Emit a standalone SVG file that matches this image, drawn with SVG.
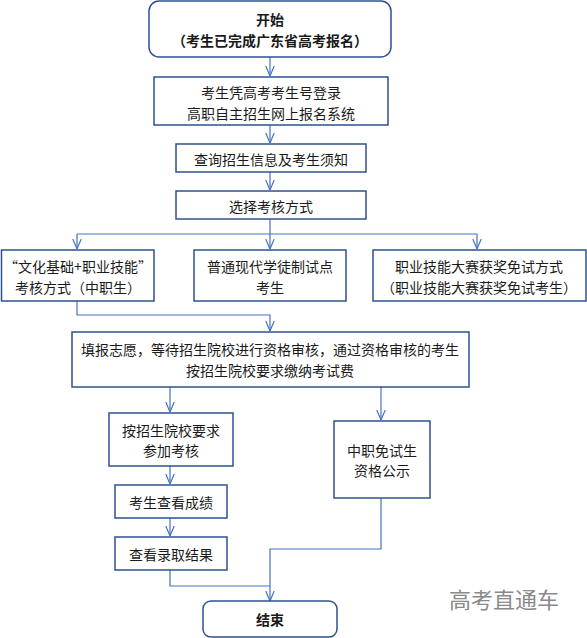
<svg xmlns="http://www.w3.org/2000/svg" width="587" height="638" viewBox="0 0 587 638">
<style>
.box{fill:#fff;stroke:#2F528F;stroke-width:1.5}
.t{font-family:"Noto Sans CJK SC","Liberation Sans",sans-serif;font-size:14px;fill:#1a1a1a;text-anchor:middle;dominant-baseline:central}
.b{font-weight:bold;font-size:14px}
.c{fill:none;stroke:#4472C4;stroke-width:1.2}
.wm{font-family:"Noto Sans CJK SC","Liberation Sans",sans-serif;font-size:22px;fill:#8a8a8a;dominant-baseline:central}
</style>
<defs>
<marker id="ah" markerUnits="userSpaceOnUse" markerWidth="10" markerHeight="10" viewBox="0 0 10 10" refX="10" refY="5" orient="auto">
<path d="M0,0.8 L10,5 L0,9.2" fill="none" stroke="#4472C4" stroke-width="1.2"/>
</marker>
</defs>
<rect width="587" height="638" fill="#fff"/>
<g id="connectors">
<path class="c" d="M270,57 V76" marker-end="url(#ah)"/>
<path class="c" d="M270,125 V143" marker-end="url(#ah)"/>
<path class="c" d="M270,172 V190" marker-end="url(#ah)"/>
<path class="c" d="M270,219 V234 M77,234 H477"/>
<path class="c" d="M77,234 V249" marker-end="url(#ah)"/>
<path class="c" d="M270,234 V249" marker-end="url(#ah)"/>
<path class="c" d="M477,234 V249" marker-end="url(#ah)"/>
<path class="c" d="M77,301 V315 H270 V331" marker-end="url(#ah)"/>
<path class="c" d="M170,387 V412" marker-end="url(#ah)"/>
<path class="c" d="M381,387 V420" marker-end="url(#ah)"/>
<path class="c" d="M170,466 V484" marker-end="url(#ah)"/>
<path class="c" d="M170,518 V536" marker-end="url(#ah)"/>
<path class="c" d="M170,570 V586 H270"/>
<path class="c" d="M381,498 V549 H270 V601" marker-end="url(#ah)"/>
</g>
<g id="start">
<rect class="box" x="149" y="1" width="242" height="56" rx="10"/>
<text class="t b" x="270" y="19">开始</text>
<text class="t b" x="270" y="40">（考生已完成广东省高考报名）</text>
</g>
<g id="login">
<rect class="box" x="154" y="77" width="234" height="48"/>
<text class="t" x="271" y="92">考生凭高考考生号登录</text>
<text class="t" x="271" y="113">高职自主招生网上报名系统</text>
</g>
<g id="query">
<rect class="box" x="176" y="144" width="190" height="28"/>
<text class="t" x="271" y="159">查询招生信息及考生须知</text>
</g>
<g id="choose">
<rect class="box" x="176" y="191" width="190" height="28"/>
<text class="t" x="271" y="206">选择考核方式</text>
</g>
<g id="mode1">
<rect class="box" x="1.5" y="250" width="152.5" height="51"/>
<text class="t" x="78" y="266">“文化基础+职业技能”</text>
<text class="t" x="78" y="287">考核方式（中职生）</text>
</g>
<g id="mode2">
<rect class="box" x="194" y="250" width="152" height="51"/>
<text class="t" x="270" y="266">普通现代学徒制试点</text>
<text class="t" x="270" y="287">考生</text>
</g>
<g id="mode3">
<rect class="box" x="373" y="250" width="213" height="51"/>
<text class="t" x="479" y="266">职业技能大赛获奖免试方式</text>
<text class="t" x="479" y="287">（职业技能大赛获奖免试考生）</text>
</g>
<g id="apply">
<rect class="box" x="72" y="332" width="397" height="55"/>
<text class="t" x="270" y="349">填报志愿，等待招生院校进行资格审核，通过资格审核的考生</text>
<text class="t" x="270" y="370">按招生院校要求缴纳考试费</text>
</g>
<g id="exam">
<rect class="box" x="109" y="413" width="124" height="53"/>
<text class="t" x="171" y="430">按招生院校要求</text>
<text class="t" x="171" y="450">参加考核</text>
</g>
<g id="publicity">
<rect class="box" x="334" y="421" width="96" height="77"/>
<text class="t" x="382" y="450">中职免试生</text>
<text class="t" x="382" y="470">资格公示</text>
</g>
<g id="score">
<rect class="box" x="115" y="485" width="112" height="33"/>
<text class="t" x="171" y="502">考生查看成绩</text>
</g>
<g id="result">
<rect class="box" x="115" y="537" width="112" height="33"/>
<text class="t" x="171" y="554">查看录取结果</text>
</g>
<g id="end">
<rect class="box" x="203" y="601" width="134" height="36" rx="8"/>
<text class="t b" x="270" y="619">结束</text>
</g>
<text class="wm" x="449" y="598">高考直通车</text>
</svg>
